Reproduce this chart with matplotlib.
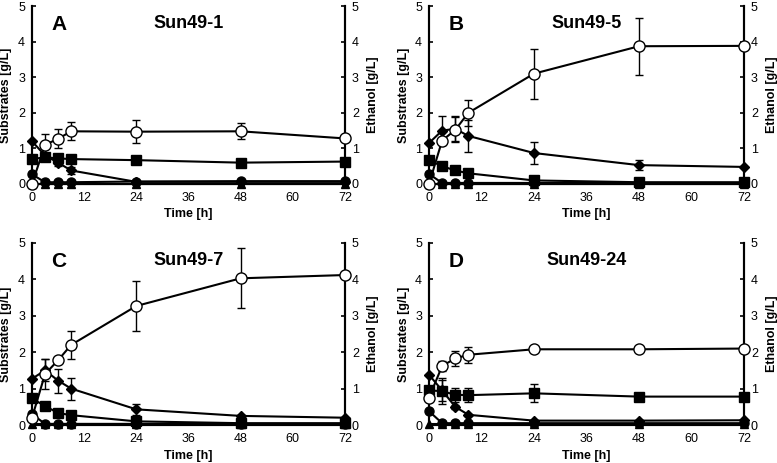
import matplotlib
matplotlib.use("Agg")
import matplotlib.pyplot as plt
import numpy as np

plt.rcParams['font.family'] = ['Liberation Sans', 'DejaVu Sans']

time = [0, 3, 6, 9, 24, 48, 72]
panel_letters = ["A", "B", "C", "D"]
panel_titles = ["Sun49-1", "Sun49-5", "Sun49-7", "Sun49-24"]

# Ethanol (open circles, right axis)
ethanol = [
    [0.0, 1.10, 1.27, 1.48, 1.47, 1.48, 1.28],
    [0.0, 1.22, 1.52, 2.00, 3.10, 3.87, 3.88],
    [0.20, 1.40, 1.78, 2.20, 3.27, 4.03, 4.12],
    [0.75, 1.62, 1.83, 1.93, 2.08, 2.08, 2.10],
]
ethanol_err = [
    [0, 0.30, 0.27, 0.25, 0.32, 0.22, 0],
    [0, 0.0, 0.35, 0.37, 0.70, 0.80, 0],
    [0, 0.40, 0.0, 0.38, 0.68, 0.82, 0],
    [0, 0.15, 0.20, 0.22, 0.03, 0.07, 0],
]
# Diamonds
diamond = [
    [1.20, 0.80, 0.60, 0.38, 0.06, 0.06, 0.06],
    [1.15, 1.50, 1.55, 1.35, 0.87, 0.53, 0.48],
    [1.27, 1.50, 1.22, 1.00, 0.43, 0.25, 0.20],
    [1.38, 0.95, 0.50, 0.28, 0.12, 0.12, 0.13],
]
diamond_err = [
    [0, 0.05, 0.1, 0.1, 0, 0, 0],
    [0, 0.40, 0.35, 0.45, 0.30, 0.15, 0],
    [0, 0.30, 0.33, 0.30, 0.15, 0.03, 0],
    [0, 0.30, 0.05, 0.03, 0, 0, 0],
]
# Squares
square = [
    [0.70, 0.75, 0.72, 0.70, 0.67, 0.60, 0.63],
    [0.67, 0.50, 0.38, 0.30, 0.10, 0.05, 0.05],
    [0.73, 0.52, 0.33, 0.27, 0.10, 0.05, 0.05],
    [0.95, 0.93, 0.83, 0.82, 0.87, 0.78, 0.78],
]
square_err = [
    [0, 0.08, 0.05, 0.05, 0, 0, 0],
    [0, 0, 0, 0, 0, 0, 0],
    [0, 0, 0, 0, 0, 0, 0],
    [0, 0.35, 0.20, 0.20, 0.25, 0.05, 0],
]
# Filled circles
fcircle = [
    [0.27, 0.05, 0.05, 0.05, 0.07, 0.08, 0.08],
    [0.28, 0.03, 0.03, 0.03, 0.03, 0.03, 0.03],
    [0.30, 0.03, 0.03, 0.03, 0.03, 0.03, 0.03],
    [0.38, 0.05, 0.05, 0.05, 0.05, 0.05, 0.05],
]
# Triangles
triangle = [
    [0.01, 0.01, 0.01, 0.01, 0.01, 0.01, 0.01],
    [0.01, 0.01, 0.01, 0.01, 0.01, 0.01, 0.01],
    [0.02, 0.02, 0.02, 0.02, 0.02, 0.02, 0.02],
    [0.03, 0.03, 0.03, 0.03, 0.03, 0.03, 0.03],
]

fig = plt.figure(figsize=(7.77, 4.63), dpi=100)
W, H = 777, 463
boxes = [
    (32, 6, 345, 184),
    (429, 6, 744, 184),
    (32, 243, 345, 425),
    (429, 243, 744, 425),
]

for i in range(4):
    x0, y0, x1, y1 = boxes[i]
    ax = fig.add_axes([x0 / W, 1 - y1 / H, (x1 - x0) / W, (y1 - y0) / H])
    ax2 = ax.twinx()
    common = dict(color="black", lw=1.5, clip_on=False, capsize=3, elinewidth=1, capthick=1)
    ax.errorbar(time, triangle[i], fmt="-^", ms=6, mfc="black", mec="black", zorder=3, **common)
    ax.errorbar(time, fcircle[i], fmt="-o", ms=6.5, mfc="black", mec="black", zorder=3, **common)
    ax.errorbar(time, square[i], yerr=square_err[i], fmt="-s", ms=7, mfc="black", mec="black", zorder=4, **common)
    ax.errorbar(time, diamond[i], yerr=diamond_err[i], fmt="-D", ms=5, mfc="black", mec="black", zorder=5, **common)
    ax2.errorbar(time, ethanol[i], yerr=ethanol_err[i], fmt="-o", ms=8, mfc="white", mec="black", mew=1, zorder=6, **common)
    for a in (ax, ax2):
        a.set_xlim(0, 72)
        a.set_ylim(0, 5)
        a.set_yticks([0, 1, 2, 3, 4, 5])
        a.spines['top'].set_visible(False)
        for s in ('left', 'right', 'bottom'):
            a.spines[s].set_linewidth(1.5)
    ax.set_xticks([0, 12, 24, 36, 48, 60, 72])
    ax.tick_params(axis='x', length=0, labelsize=9, pad=6)
    ax.tick_params(axis='y', direction='in', length=3, width=1.2, labelsize=9, pad=5)
    ax2.tick_params(axis='y', direction='in', length=3, width=1.2, labelsize=9, pad=5)
    ax.set_xlabel("Time [h]", fontsize=9, fontweight='bold', labelpad=3)
    ax.set_ylabel("Substrates [g/L]", fontsize=9, fontweight='bold', labelpad=4)
    ax2.set_ylabel("Ethanol [g/L]", fontsize=9, fontweight='bold', labelpad=6)
    ax2.set_zorder(ax.get_zorder() + 1)
    ax2.patch.set_visible(False)
    ax.text(0.062, 0.95, panel_letters[i], transform=ax.transAxes, fontsize=15,
            fontweight='bold', va='top', ha='left')
    ax.text(0.5, 0.95, panel_titles[i], transform=ax.transAxes, fontsize=13,
            fontweight='bold', va='top', ha='center')

fig.savefig("out.png", dpi=100)
